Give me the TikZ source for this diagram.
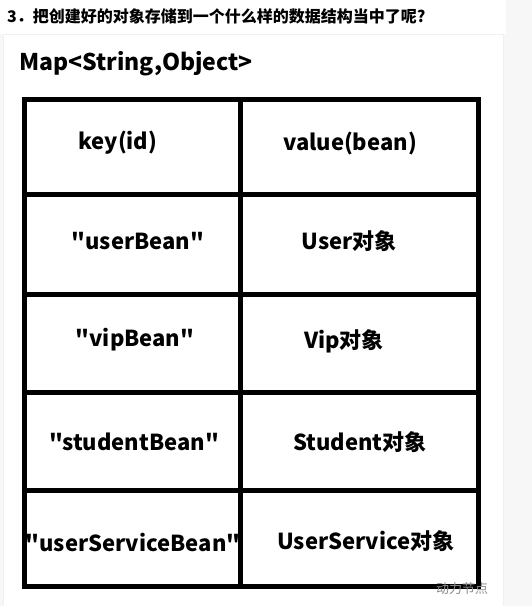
\documentclass[tikz,border=0pt]{standalone}
\usepackage{fontspec}
\setmainfont{Noto Sans CJK SC}[Ligatures=TeXOff]
\usepackage{tikz}
\usetikzlibrary{calc}
\tikzset{
  cell/.style={font=\bfseries\fontsize{22}{25}\selectfont, inner sep=0pt},
  gridline/.style={line width=5pt, black},
}
\begin{document}
\begin{tikzpicture}[x=1pt,y=-1pt]
    \useasboundingbox (0,0) rectangle (532,606);
    \fill[black!3] (0,0) rectangle (532,606);
    \fill[white] (0,0) rectangle (506,34);
    \draw[black!6, fill=white] (3,34) rectangle (503,610);
    % title
    \node[anchor=west, inner sep=0pt, font=\bfseries\fontsize{16}{19}\selectfont] (title) at (7,16) {3．把创建好的对象存储到一个什么样的数据结构当中了呢?};
    \node[anchor=west, inner sep=0pt, font=\bfseries\fontsize{23}{27}\selectfont] (map) at (19,64) {Map<String,Object>};
    % table
    \draw[gridline] (24.5,99.5) rectangle (478.5,586.5);
    \draw[gridline] (240.5,99.5) -- (240.5,586.5);
    \draw[gridline] (24.5,194.5) -- (478.5,194.5);
    \draw[gridline] (24.5,294.5) -- (478.5,294.5);
    \draw[gridline] (24.5,392) -- (478.5,392);
    \draw[gridline] (24.5,490.5) -- (478.5,490.5);
    \node[cell] (k0) at (118,143) {key(id)};
    \node[cell] (v0) at (350,143) {value(bean)};
    \node[cell] (k1) at (138,241) {"userBean"};
    \node[cell] (v1) at (349,241) {User对象};
    \node[cell] (k2) at (135,340) {"vipBean"};
    \node[cell] (v2) at (344,341) {Vip对象};
    \node[cell] (k3) at (134,442) {"studentBean"};
    \node[cell] (v3) at (360,442) {Student对象};
    \node[cell] (k4) at (133,543) {"userServiceBean"};
    \node[cell] (v4) at (366,541) {UserService对象};
    % watermark
    \node[anchor=west, inner sep=0pt, text=black!45, font=\fontsize{13}{15}\selectfont] (mark) at (436,589) {动力节点};
\end{tikzpicture}
\end{document}
